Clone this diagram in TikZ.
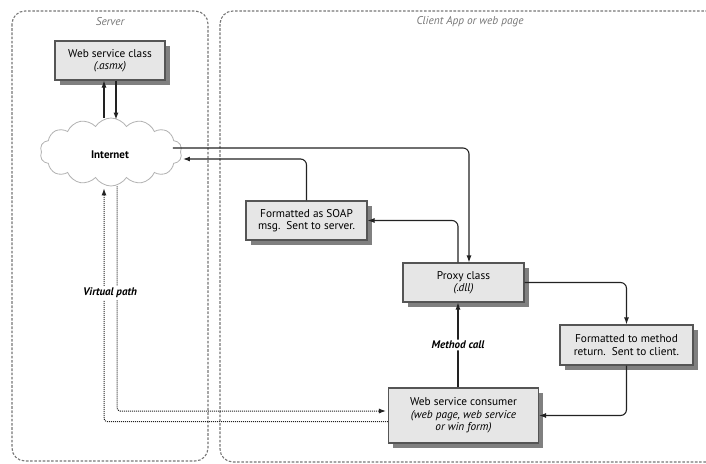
\documentclass[tikz,border=0pt]{standalone}
\usepackage{fontspec}
\setmainfont{PT Sans}
\usetikzlibrary{arrows.meta,shapes.symbols,shadows,calc}

\definecolor{linegray}{HTML}{222222}
\definecolor{boxfill}{HTML}{E6E6E6}
\definecolor{boxline}{HTML}{555555}
\definecolor{zonegray}{HTML}{777777}

\tikzset{
  stepbox/.style={draw=boxline, line width=1.1pt, fill=boxfill, align=center,
    font=\fontsize{11.3}{12.5}\selectfont, inner sep=0pt,
    drop shadow={shadow xshift=4.5pt, shadow yshift=-4.5pt, fill=black!50, opacity=1}},
  zone/.style={draw=zonegray, line width=1.1pt, dash pattern=on 2.6pt off 1.6pt, rounded corners=13pt},
  zonelabel/.style={text=zonegray, font=\fontsize{11.3}{13}\selectfont\itshape},
  flow/.style={draw=linegray, line width=1.1pt, rounded corners=6pt, -{Latex[length=7pt,width=5pt]}},
  vpath/.style={draw=linegray, line width=1pt, dash pattern=on 1pt off 1pt, rounded corners=3pt,
    -{Latex[length=7pt,width=5pt]}},
  tag/.style={fill=white, inner sep=1.5pt, font=\fontsize{11}{12}\selectfont\bfseries\itshape}
}

\begin{document}
\begin{tikzpicture}[x=1pt,y=-1pt]
  \useasboundingbox (0,0) rectangle (706,463);
  \clip (0,0) rectangle (706,463);

  % the two zones
  \draw[zone] (12,11) rectangle (208,461);
  \draw[zone] (220,11) rectangle (740,462);
  \node[zonelabel] (srvlbl) at (110,22) {Server};
  \node[zonelabel] (clilbl) at (470,22) {Client App or web page};

  % the cloud
  \node[cloud, cloud puffs=14, cloud puff arc=115, aspect=2.2, draw=black!30, line width=0.8pt,
        fill=white, minimum width=142pt, minimum height=68pt, inner sep=0pt] (net) at (111,152) {};
  \node[font=\fontsize{11}{12}\selectfont\bfseries] (netlbl) at (110,155) {Internet};

  % boxes
  \node[stepbox, minimum width=110pt, minimum height=39pt] (wsc) at (110,60.5)
    {Web service class\\ \textit{(.asmx)}};
  \node[stepbox, minimum width=121pt, minimum height=39pt] (soap) at (306.5,220.5)
    {Formatted as SOAP\\ msg.\ \ Sent to server.};
  \node[stepbox, minimum width=121pt, minimum height=39pt] (proxy) at (463.5,282.5)
    {Proxy class\\ \textit{(.dll)}};
  \node[stepbox, minimum width=133pt, minimum height=40pt] (fmt) at (626.5,345)
    {Formatted to method\\ return.\ \ Sent to client.};
  \node[stepbox, minimum width=150pt, minimum height=55pt] (cons) at (463.5,415.5)
    {Web service consumer\\ \textit{(web page, web service}\\ \textit{or win form)}};

  % server side
  \draw[flow] ([xshift=-7pt]net.north) -- ([xshift=-7pt]net.north |- wsc.south);
  \draw[flow] ([xshift=6pt]wsc.south) -- ([xshift=6pt,yshift=-2pt]wsc.south |- net.north);

  % request and response through the internet
  \draw[flow] ([xshift=-8pt,yshift=4pt]net.east) -| ([xshift=5.5pt]proxy.north);
  \draw[flow] ([xshift=-5.5pt]proxy.north) |- (soap.east);
  \draw[flow] (soap.north) |- ([xshift=2pt,yshift=-7pt]net.east);
  \draw[flow] (proxy.east) -| (fmt.north);
  \draw[flow] (fmt.south) |- (cons.east);
  \draw[flow] ([xshift=-5.5pt]cons.north) -- node[tag] (mcall) {Method call} ([xshift=-5.5pt]proxy.south);

  % virtual path
  \draw[vpath] ([xshift=6pt]net.south) |- ([xshift=-2pt,yshift=4.5pt]cons.west);
  \draw[vpath] ([yshift=-6pt]cons.west) -| ([xshift=-7pt,yshift=-2pt]net.south);
  \node[tag] (vpl) at (110,293) {Virtual path};
\end{tikzpicture}
\end{document}
